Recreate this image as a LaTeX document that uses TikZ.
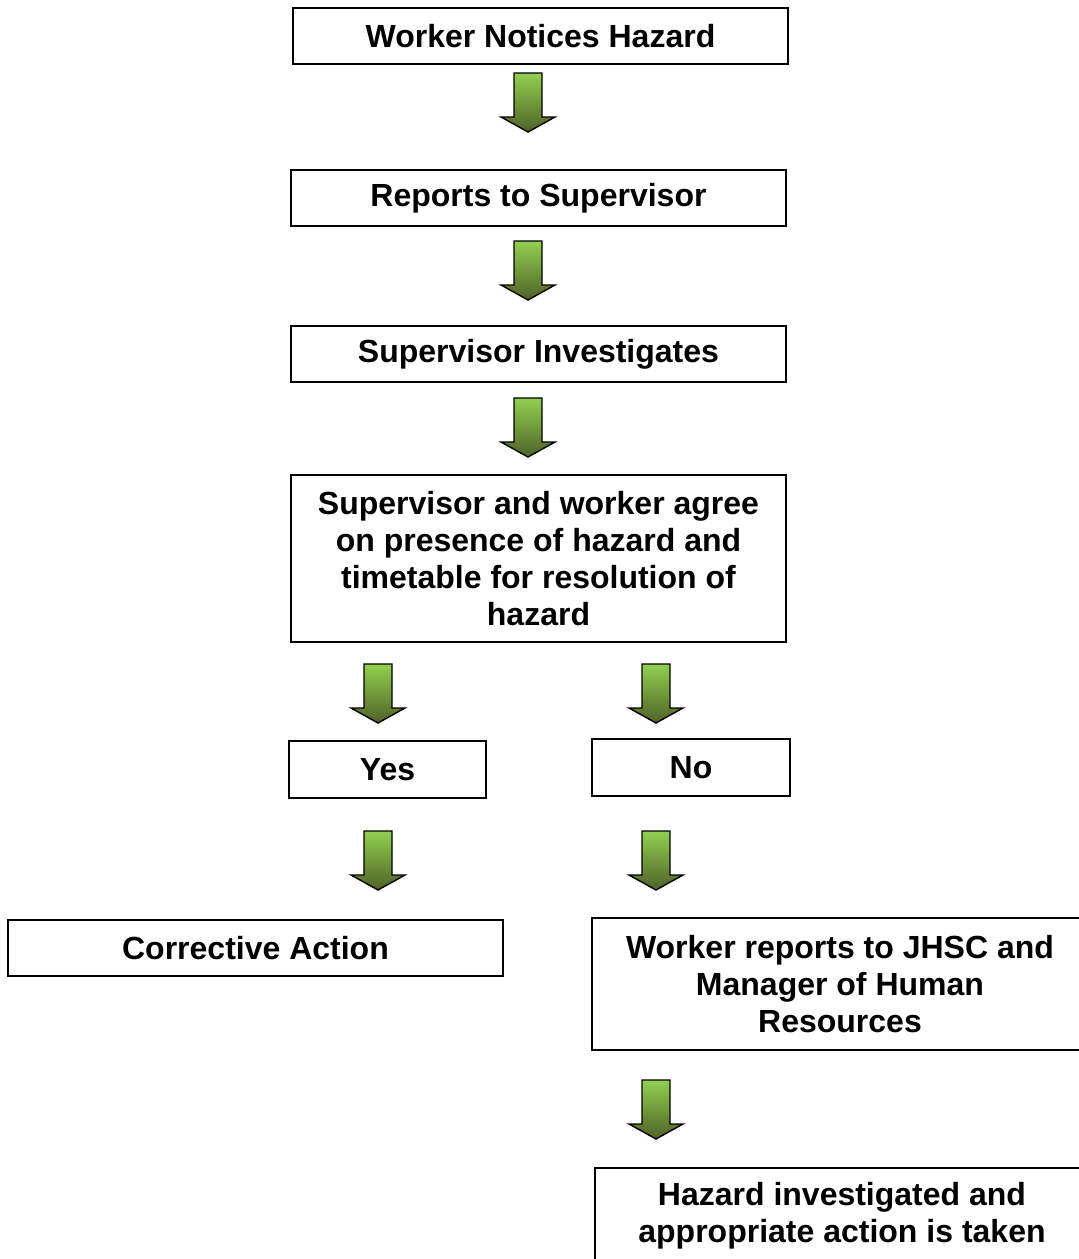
\documentclass[tikz,border=0pt]{standalone}
\usepackage{fontspec}
\setmainfont{Liberation Sans}
\usetikzlibrary{positioning}
\definecolor{arrowlight}{RGB}{146,208,80}
\definecolor{arrowdark}{RGB}{79,98,40}
\tikzset{
  flowbox/.style={draw, line width=1.5pt, minimum height=56pt, minimum width=495pt,
    inner sep=0pt, align=center, font=\fontsize{32}{37}\selectfont\bfseries},
  blockarrow/.style={draw=black, line width=1.4pt, top color=arrowlight, bottom color=arrowdark}
}
\begin{document}
\begin{tikzpicture}[x=1pt,y=-1pt]
  \useasboundingbox (0,0) rectangle (1079,1259);
  \clip (0,0) rectangle (1079,1259);
  % boxes
  \node[flowbox] (notice) at (540.5,36) {Worker Notices Hazard};
  \node[flowbox] (report) at (538.5,198) {Reports to Supervisor};
  \node[flowbox] (invest) at (538.5,354) {Supervisor Investigates};
  \node[flowbox, minimum height=167pt] (agree) at (538.5,558.5)
    {Supervisor and worker agree\\on presence of hazard and\\timetable for resolution of\\hazard};
  \node[flowbox, minimum width=197pt, minimum height=57pt] (yes) at (387.5,769.5) {Yes};
  \node[flowbox, minimum width=198pt, minimum height=57pt] (no) at (691,767.5) {No};
  \node[flowbox] (corrective) at (255.5,948) {Corrective Action};
  \node[flowbox, minimum width=496pt, minimum height=132pt] (jhsc) at (840,984)
    {Worker reports to JHSC and\\Manager of Human\\Resources};
  \node[flowbox, minimum width=494pt, minimum height=96pt] (taken) at (842,1216)
    {Hazard investigated and\\appropriate action is taken};
  % green arrows
  \foreach \ax/\ay in {528/73, 528/241, 528/398, 378/664, 656/664, 378/831, 656/831, 656/1080}
    \draw[blockarrow] (\ax-14,\ay) -- (\ax+14,\ay) -- (\ax+14,\ay+44) -- (\ax+27,\ay+44)
      -- (\ax,\ay+59) -- (\ax-27,\ay+44) -- (\ax-14,\ay+44) -- cycle;
\end{tikzpicture}
\end{document}
